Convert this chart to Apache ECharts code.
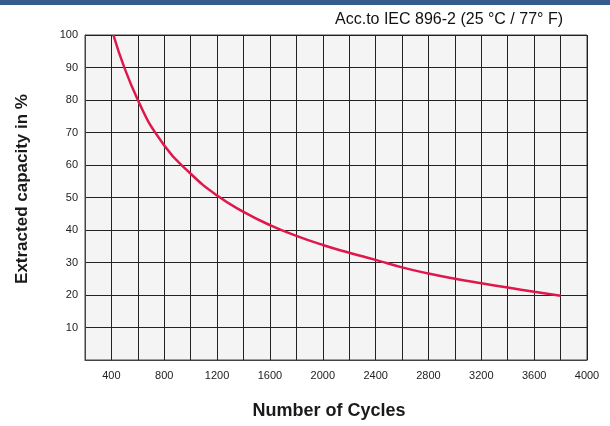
<!DOCTYPE html>
<html>
<head>
<meta charset="utf-8">
<script src="https://cdn.jsdelivr.net/npm/echarts@6/dist/echarts.min.js"></script>
<style>html,body{margin:0;padding:0;background:#fff;}#c{width:610px;height:426px;}</style>
</head>
<body>
<div id="c"></div>
<script>
const cycles = [415, 600, 800, 1000, 1200, 1400, 1600, 1800, 2000, 2200, 2400, 2600, 2800, 3000, 3200, 3400, 3600, 3800];
const capacity = [100, 80, 66, 57.3, 50.6, 45.6, 41.5, 38.2, 35.4, 33.0, 30.8, 28.5, 26.6, 25, 23.6, 22.3, 21, 19.8];
const xLabelStep = 400;
const titleText = 'Acc.to IEC 896-2 (25 °C / 77° F)';
const xName = 'Number of Cycles';
const yName = 'Extracted capacity in %';

const chart = echarts.init(document.getElementById('c'));
const fam = 'Liberation Sans, Arial, sans-serif';
chart.setOption({
  animation: false,
  graphic: [
    { type: 'rect', shape: { x: 0, y: 0, width: 610, height: 5 }, style: { fill: '#345d8e' } },
    { type: 'text', x: 563, y: 20, style: { text: titleText, font: '16px ' + fam, fill: '#111', align: 'right', verticalAlign: 'middle' } },
    { type: 'text', x: 329, y: 411, style: { text: xName, font: 'bold 18px ' + fam, fill: '#1a1a1a', align: 'center', verticalAlign: 'middle' } },
    { type: 'text', x: 22, y: 189, rotation: Math.PI / 2, style: { text: yName, font: 'bold 17px ' + fam, fill: '#1a1a1a', align: 'center', verticalAlign: 'middle' } }
  ],
  grid: { left: 85, right: 23, top: 35, bottom: 66, show: true, backgroundColor: '#f4f4f4', borderColor: '#444', borderWidth: 1 },
  xAxis: {
    type: 'value', min: 200, max: 4000, interval: 200,
    axisLine: { show: true, lineStyle: { color: '#444', width: 1 } },
    axisTick: { show: false },
    axisLabel: { margin: 10, fontSize: 11, fontFamily: fam, color: '#222',
      formatter: v => (v % xLabelStep === 0 ? String(v) : ''), showMinLabel: true, showMaxLabel: true },
    splitLine: { show: true, lineStyle: { color: '#222', width: 1 } }
  },
  yAxis: {
    type: 'value', min: 0, max: 100, interval: 10,
    axisLine: { show: true, lineStyle: { color: '#444', width: 1 } },
    axisTick: { show: false },
    axisLabel: { margin: 7, fontSize: 11, fontFamily: fam, color: '#222',
      formatter: v => (v === 0 ? '' : String(v)) },
    splitLine: { show: true, lineStyle: { color: '#222', width: 1 } }
  },
  series: [{
    type: 'line', smooth: 0.5, symbol: 'none',
    data: cycles.map((c, i) => [c, capacity[i]]),
    lineStyle: { color: '#e0174a', width: 2.5 }
  }]
});
</script>
</body>
</html>
